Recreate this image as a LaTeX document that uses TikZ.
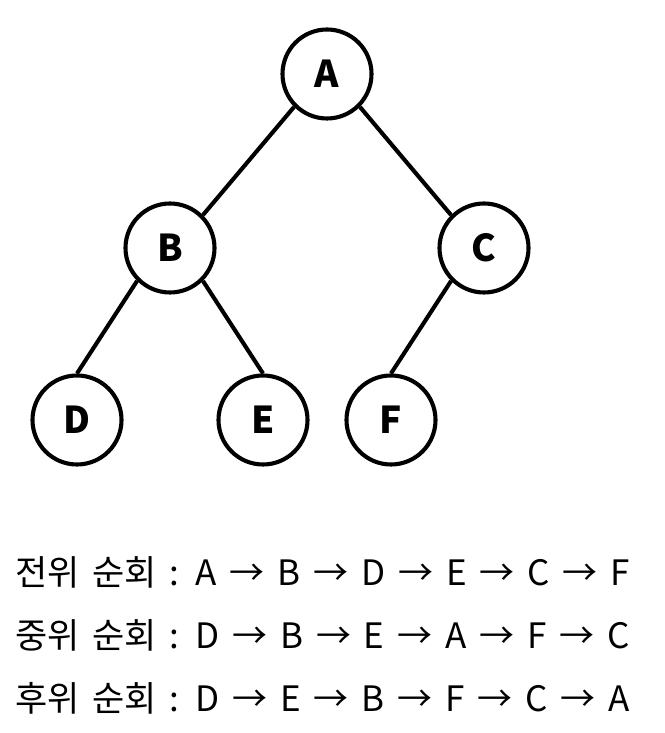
\documentclass[tikz,border=0pt]{standalone}
\usepackage{fontspec}
\setmainfont{Noto Sans CJK KR}[WordSpace=1.65]
\usepackage{tikz}
\usetikzlibrary{positioning}

\begin{document}
\begin{tikzpicture}[x=1pt,y=1pt,
  vertex/.style={circle,draw,line width=4.1pt,minimum size=89pt,inner sep=0pt,
    font=\fontsize{37}{42}\selectfont\bfseries},
  link/.style={line width=4.1pt},
  order/.style={anchor=base west,inner sep=0pt,font=\fontsize{35}{40}\selectfont}]
\useasboundingbox (0,0) rectangle (664,733);
% tree
\node[vertex] (A) at (327,659) {A};
\node[vertex] (B) at (170,485) {B};
\node[vertex] (C) at (484,485) {C};
\node[vertex] (D) at (77,313) {D};
\node[vertex] (E) at (263,313) {E};
\node[vertex] (F) at (391,313) {F};
\draw[link] (A.south west) -- (B.north east);
\draw[link] (A.south east) -- (C.north west);
\foreach \u/\v in {B/D,C/F}{
  \draw[link] (\u.south west) -- (\v.north);
}
\draw[link] (B.south east) -- (E.north);
% traversal orders
\node[order] (pre) at (15,147) {전위 순회 : A → B → D → E → C → F};
\node[order] (in) at (15,84) {중위 순회 : D → B → E → A → F → C};
\node[order] (post) at (15,21) {후위 순회 : D → E → B → F → C → A};
\end{tikzpicture}
\end{document}
